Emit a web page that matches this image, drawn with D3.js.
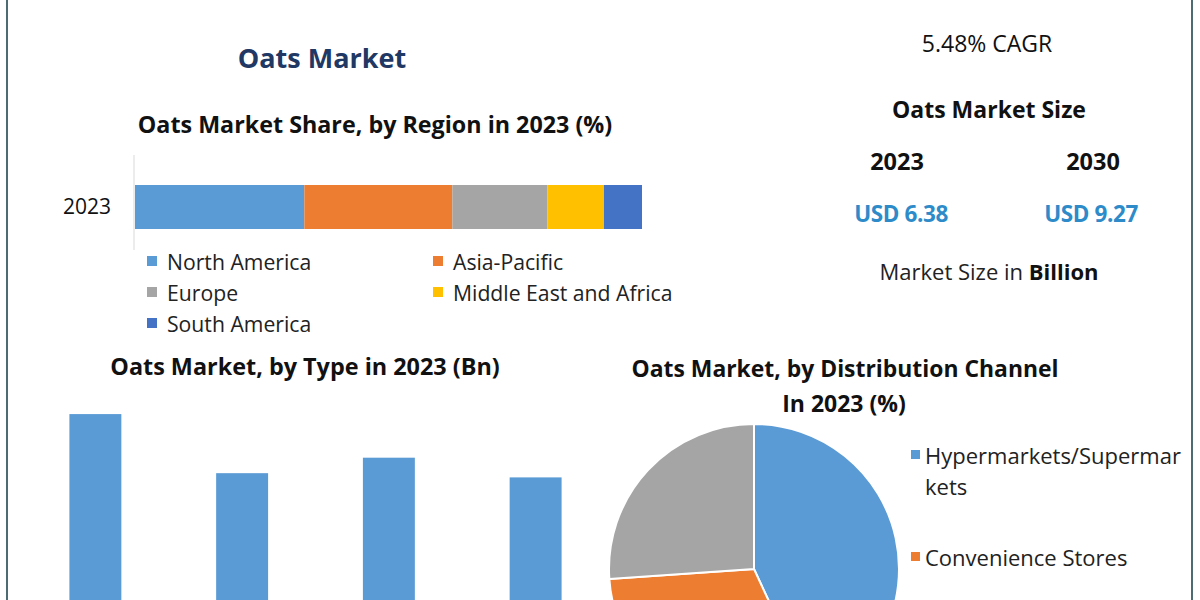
<!DOCTYPE html>
<html>
<head>
<meta charset="utf-8">
<script src="https://cdn.jsdelivr.net/npm/d3@7"></script>
<style>
  html, body { margin: 0; padding: 0; background: #fff; }
  svg { display: block; font-family: "Open Sans", Lato, sans-serif; }
</style>
</head>
<body>
<svg id="chart" width="1200" height="600"></svg>
<script>
// data
const regions = ['North America', 'Asia-Pacific', 'Europe', 'Middle East and Africa', 'South America'];
const regionShare = [33.4, 29.2, 18.7, 11.2, 7.5];
const regionColors = ['#5b9bd5', '#ed7d31', '#a5a5a5', '#ffc000', '#4472c4'];

const types = ['Whole Oats', 'Steel Cut Oats', 'Rolled Oats', 'Instant Oats'];
const typeValues = [1.89, 1.47, 1.58, 1.44];

const channels = ['Hypermarkets/Supermarkets', 'Convenience Stores', 'Online Stores'];
const channelShare = [43.1, 30.8, 26.1];
const channelColors = ['#5b9bd5', '#ed7d31', '#a5a5a5'];

const sizeYears = ['2023', '2030'];
const sizeValues = [6.38, 9.27];
const cagr = 5.48;

const svg = d3.select('#chart');

svg.append('rect').attr('width', 1200).attr('height', 600).attr('fill', '#fff');

// frame lines
svg.append('line').attr('x1', 7).attr('x2', 7).attr('y1', 0).attr('y2', 600)
    .attr('stroke', '#4d6b73').attr('stroke-width', 2);
svg.append('line').attr('x1', 1192).attr('x2', 1192).attr('y1', 0).attr('y2', 600)
    .attr('stroke', '#4d6b73').attr('stroke-width', 2);

const text = (x, y, str, size, opts = {}) => svg.append('text')
    .attr('x', x).attr('y', y)
    .attr('text-anchor', opts.anchor || 'middle')
    .attr('dominant-baseline', 'central')
    .attr('font-size', size)
    .attr('font-weight', opts.bold ? 'bold' : 'normal')
    .attr('fill', opts.fill || '#111')
    .text(str);

text(322, 57, 'Oats Market', 27, {bold: true, fill: '#1f3864'});

// ---- stacked region bar
text(375, 124, 'Oats Market Share, by Region in 2023 (%)', 23.3, {bold: true});

const xStack = d3.scaleLinear().domain([0, 100]).range([135, 642]);
const yStack = d3.scaleBand().domain(['2023']).range([141, 273]).paddingInner(0.5).paddingOuter(0.5);

let acc = 0;
const stacked = regionShare.map((v, i) => {
    const d = {region: regions[i], x0: acc, x1: acc + v, color: regionColors[i]};
    acc += v;
    return d;
});

svg.append('g').selectAll('rect').data(stacked)
    .enter().append('rect')
        .attr('x', d => xStack(d.x0))
        .attr('width', d => xStack(d.x1) - xStack(d.x0))
        .attr('y', yStack('2023'))
        .attr('height', yStack.bandwidth())
        .attr('fill', d => d.color);

const yStackAxis = svg.append('g')
    .attr('transform', 'translate(134,0)')
    .call(d3.axisLeft(yStack).tickSize(0).tickPadding(23));
yStackAxis.select('.domain').attr('stroke', '#d9d9d9').attr('d', 'M0,155V250');
yStackAxis.selectAll('text').attr('font-size', 21).attr('fill', '#111')
    .attr('font-family', '"Open Sans", sans-serif');

const legendPos = [[147, 261], [433, 261], [147, 292], [433, 292], [147, 323]];
const legend = svg.append('g').selectAll('g').data(stacked)
    .enter().append('g')
        .attr('transform', (d, i) => `translate(${legendPos[i][0]},${legendPos[i][1]})`);
legend.append('rect').attr('x', 0).attr('y', -5).attr('width', 10).attr('height', 10)
    .attr('fill', d => d.color);
legend.append('text').attr('x', 20).attr('dominant-baseline', 'central')
    .attr('font-size', 21.2).attr('fill', '#222').text(d => d.region);

// ---- market size panel
text(987, 43, `${cagr}% CAGR`, 23, {fill: '#111'});
text(989, 109, 'Oats Market Size', 23, {bold: true});
const xSize = d3.scalePoint().domain(sizeYears).range([897, 1093]);
sizeYears.forEach((yr, i) => {
    text(xSize(yr), 161, yr, 23.5, {bold: true});
    text(xSize(yr) + (i === 0 ? 4 : -2), 213, `USD ${sizeValues[i]}`, 22.5, {bold: true, fill: '#2e8bc9'})
        .attr('letter-spacing', -0.4);
});
const ms = text(989, 271, 'Market Size in ', 22, {fill: '#222'});
ms.append('tspan').attr('font-weight', 'bold').attr('fill', '#111').text('Billion');

// ---- type bar chart
text(305, 366, 'Oats Market, by Type in 2023 (Bn)', 23.4, {bold: true});

const xType = d3.scaleBand().domain(types).range([22, 609]).paddingInner(0.646).paddingOuter(0.323);
const yType = d3.scaleLinear().domain([0, 2]).range([680, 680 - 2 * 140.7]);

svg.append('g').selectAll('rect').data(types)
    .enter().append('rect')
        .attr('x', d => xType(d))
        .attr('width', xType.bandwidth())
        .attr('y', (d, i) => yType(typeValues[i]))
        .attr('height', (d, i) => yType(0) - yType(typeValues[i]))
        .attr('fill', '#5b9bd5');

// ---- distribution channel pie
text(845, 368, 'Oats Market, by Distribution Channel', 22.9, {bold: true});
text(844, 403, 'In 2023 (%)', 23, {bold: true});

const pie = d3.pie().sort(null).value(d => d)(channelShare);
const arc = d3.arc().innerRadius(0).outerRadius(145);
svg.append('g').attr('transform', 'translate(754,569)')
    .selectAll('path').data(pie)
    .enter().append('path')
        .attr('d', arc)
        .attr('fill', (d, i) => channelColors[i])
        .attr('stroke', '#fff').attr('stroke-width', 2);

// legend entries below the bottom edge are cut off in the original
const pieLegendY = [455, 557, 628];
const visibleChannels = channels.filter((d, i) => pieLegendY[i] < 600);
const pl = svg.append('g').selectAll('g').data(visibleChannels)
    .enter().append('g')
        .attr('transform', (d, i) => `translate(911,${pieLegendY[i]})`);
pl.append('rect').attr('x', 0).attr('y', -5).attr('width', 9).attr('height', 9)
    .attr('fill', (d, i) => channelColors[i]);
pl.append('text').attr('x', 14).attr('dominant-baseline', 'central')
    .attr('font-size', 22).attr('fill', '#222')
    .each(function(d) {
        const lines = d.length > 21 ? [d.slice(0, 21), d.slice(21)] : [d];
        lines.forEach((line, j) => {
            d3.select(this).append('tspan').attr('x', 14).attr('dy', j === 0 ? 0 : 31).text(line);
        });
    });
</script>
</body>
</html>
